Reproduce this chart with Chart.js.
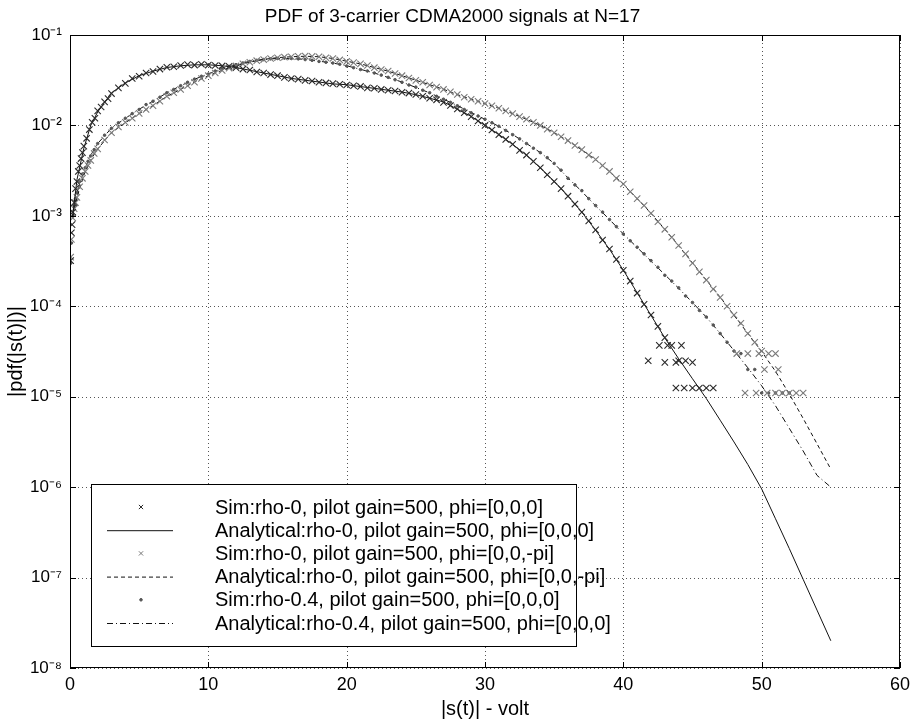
<!DOCTYPE html>
<html>
<head>
<meta charset="utf-8">
<script src="https://cdn.jsdelivr.net/npm/chart.js@4/dist/chart.umd.min.js"></script>
<style>
  html, body { margin: 0; padding: 0; background: #fff; }
  #box { width: 916px; height: 721px; }
</style>
</head>
<body>
<div id="box"><canvas id="pdfChart"></canvas></div>
<script>
// chart texts
var chartTitle = "PDF of 3-carrier CDMA2000 signals at N=17"
var xTitle = "|s(t)| - volt"
var yTitle = "|pdf(|s(t)|)|"
var seriesNames = [
  "Sim:rho-0, pilot gain=500, phi=[0,0,0]",
  "Analytical:rho-0, pilot gain=500, phi=[0,0,0]",
  "Sim:rho-0, pilot gain=500, phi=[0,0,-pi]",
  "Analytical:rho-0, pilot gain=500, phi=[0,0,-pi]",
  "Sim:rho-0.4, pilot gain=500, phi=[0,0,0]",
  "Analytical:rho-0.4, pilot gain=500, phi=[0,0,0]"
]
var xTicks = [0, 10, 20, 30, 40, 50, 60]
var yTicks = [1e-8, 1e-7, 1e-6, 1e-5, 1e-4, 1e-3, 1e-2, 1e-1]

// analytical curves
var lineX = [0.2, 0.5, 1, 1.5, 2, 3, 4, 5, 6, 7, 8, 9, 10, 11, 12, 13, 14, 15, 16, 17, 18, 19, 20,
  21, 22, 23, 24, 25, 26, 27, 28, 29, 30, 31, 32, 33, 34, 35, 36, 37, 38, 39, 40,
  41, 42, 43, 44, 45, 46, 47, 48, 49, 50, 51, 52, 53, 54, 55]
var anaRho0 = [1.0e-3, 2.5e-3, 5.6e-3, 1.0e-2, 1.41e-2, 2.29e-2, 2.95e-2, 3.55e-2, 3.98e-2, 4.37e-2,
  4.57e-2, 4.68e-2, 4.68e-2, 4.57e-2, 4.37e-2, 4.07e-2, 3.80e-2, 3.55e-2, 3.31e-2, 3.16e-2, 3.02e-2,
  2.88e-2, 2.82e-2, 2.69e-2, 2.57e-2, 2.45e-2, 2.34e-2, 2.19e-2, 2.0e-2, 1.82e-2, 1.51e-2, 1.26e-2,
  1.0e-2, 7.94e-3, 6.17e-3, 4.68e-3, 3.39e-3, 2.40e-3, 1.66e-3, 1.10e-3, 6.92e-4, 4.27e-4, 2.51e-4,
  1.41e-4, 7.94e-5, 4.47e-5, 2.63e-5, 1.58e-5, 9.55e-6, 5.50e-6, 3.16e-6, 1.78e-6, 9.55e-7, 4.47e-7,
  2.09e-7, 9.55e-8, 4.37e-8, 2.0e-8]
var anaRho0Pi = [1.0e-3, 1.58e-3, 2.82e-3, 4.17e-3, 5.50e-3, 8.32e-3, 1.07e-2, 1.35e-2, 1.66e-2, 2.09e-2,
  2.51e-2, 3.02e-2, 3.55e-2, 4.07e-2, 4.57e-2, 5.01e-2, 5.37e-2, 5.62e-2, 5.75e-2, 5.82e-2, 5.75e-2,
  5.50e-2, 5.13e-2, 4.79e-2, 4.37e-2, 3.98e-2, 3.55e-2, 3.16e-2, 2.82e-2, 2.51e-2, 2.19e-2, 1.95e-2,
  1.74e-2, 1.55e-2, 1.35e-2, 1.17e-2, 1.0e-2, 8.32e-3, 6.76e-3, 5.37e-3, 4.17e-3, 3.09e-3, 2.24e-3,
  1.55e-3, 1.07e-3, 7.08e-4, 4.68e-4, 3.02e-4, 1.95e-4, 1.26e-4, 7.94e-5, 5.01e-5, 3.16e-5, 1.91e-5,
  1.07e-5, 5.75e-6, 3.02e-6, 1.58e-6]
var anaRho04 = [1.0e-3, 1.78e-3, 3.16e-3, 4.68e-3, 6.31e-3, 9.33e-3, 1.20e-2, 1.51e-2, 1.86e-2, 2.29e-2,
  2.75e-2, 3.24e-2, 3.72e-2, 4.27e-2, 4.68e-2, 5.13e-2, 5.37e-2, 5.50e-2, 5.50e-2, 5.37e-2, 5.13e-2,
  4.90e-2, 4.57e-2, 4.17e-2, 3.80e-2, 3.39e-2, 3.02e-2, 2.63e-2, 2.29e-2, 1.95e-2, 1.66e-2, 1.38e-2,
  1.17e-2, 9.77e-3, 7.94e-3, 6.31e-3, 5.01e-3, 3.80e-3, 2.63e-3, 1.86e-3, 1.29e-3, 9.12e-4, 6.31e-4,
  4.47e-4, 3.16e-4, 2.24e-4, 1.58e-4, 1.10e-4, 7.59e-5, 5.01e-5, 3.24e-5, 2.09e-5, 1.32e-5, 7.94e-6,
  4.47e-6, 2.51e-6, 1.35e-6, 1.0e-6]

// simulated points, rho-0 phi=[0,0,0]
var simRho0X = [0.05, 0.1, 0.15, 0.2, 0.3, 0.4, 0.5, 0.6, 0.7, 0.8, 0.9, 1.0, 1.2, 1.4, 1.6, 1.8, 2.0, 2.25,
  2.5, 2.75, 3.0, 3.5, 4.0, 4.5, 5.0, 5.5, 6.0, 6.5, 7.0, 7.5, 8.0, 8.5, 9.0, 9.5, 10.0, 10.5, 11.0,
  11.5, 12.0, 12.5, 13.0, 13.5, 14.0, 14.5, 15.0, 15.5, 16.0, 16.5, 17.0, 17.5, 18.0, 18.5, 19.0,
  19.5, 20.0, 20.5, 21.0, 21.5, 22.0, 22.5, 23.0, 23.5, 24.0, 24.5, 25.0, 25.5, 26.0, 26.5, 27.0,
  27.5, 28.0, 28.5, 29.0, 29.5, 30.0, 30.5, 31.0, 31.5, 32.0, 32.5, 33.0, 33.5, 34.0, 34.5, 35.0,
  35.5, 36.0, 36.5, 37.0, 37.5, 38.0, 38.5, 39.0, 39.5, 40.0, 40.5, 41.0, 41.5, 42.0, 42.5, 43.0,
  43.5, 44.0, 44.5, 45.0, 45.5, 46.0, 46.5, 42.6, 43.2, 44.2, 43.0, 43.8, 45.0, 43.8, 44.4, 41.8]
var simRho0Y = [3.2e-4, 6.5e-4, 8.0e-4, 1.1e-3, 1.4e-3, 2.0e-3, 2.4e-3, 3.1e-3, 3.6e-3, 4.3e-3, 5.0e-3,
  5.9e-3, 7.2e-3, 9.0e-3, 1.08e-2, 1.2e-2, 1.45e-2, 1.6e-2, 1.82e-2, 1.98e-2, 2.25e-2, 2.6e-2,
  2.92e-2, 3.3e-2, 3.5e-2, 3.8e-2, 3.95e-2, 4.2e-2, 4.4e-2, 4.45e-2, 4.6e-2, 4.7e-2, 4.65e-2,
  4.75e-2, 4.65e-2, 4.6e-2, 4.55e-2, 4.5e-2, 4.35e-2, 4.2e-2, 4.1e-2, 3.9e-2, 3.8e-2, 3.65e-2,
  3.55e-2, 3.4e-2, 3.3e-2, 3.25e-2, 3.15e-2, 3.1e-2, 3.0e-2, 2.95e-2, 2.9e-2, 2.85e-2, 2.8e-2,
  2.75e-2, 2.7e-2, 2.6e-2, 2.58e-2, 2.5e-2, 2.45e-2, 2.4e-2, 2.33e-2, 2.28e-2, 2.2e-2, 2.1e-2,
  2.0e-2, 1.92e-2, 1.8e-2, 1.66e-2, 1.52e-2, 1.38e-2, 1.25e-2, 1.12e-2, 1.0e-2, 8.9e-3, 7.9e-3,
  7.0e-3, 6.2e-3, 5.3e-3, 4.7e-3, 4.0e-3, 3.4e-3, 2.85e-3, 2.4e-3, 2.0e-3, 1.65e-3, 1.35e-3,
  1.1e-3, 8.8e-4, 7.0e-4, 5.4e-4, 4.3e-4, 3.3e-4, 2.5e-4, 1.9e-4, 1.4e-4, 1.05e-4, 8.0e-5, 6.0e-5,
  4.5e-5, 3.7e-5, 2.5e-5, 2.5e-5, 1.25e-5, 1.25e-5, 1.25e-5, 1.25e-5, 3.7e-5, 3.7e-5, 3.7e-5,
  2.4e-5, 2.4e-5, 2.4e-5, 1.25e-5, 1.25e-5, 2.5e-5]

// simulated points, rho-0 phi=[0,0,-pi]
var simRho0PiX = [0.05, 0.1, 0.2, 0.3, 0.4, 0.5, 0.7, 0.9, 1.1, 1.3, 1.5, 1.75, 2.0, 2.5, 3.0, 3.5, 4.0,
  4.5, 5.0, 5.5, 6.0, 6.5, 7.0, 7.5, 8.0, 8.5, 9.0, 9.5, 10.0, 10.5, 11.0, 11.5, 12.0, 12.5, 13.0,
  13.5, 14.0, 14.5, 15.0, 15.5, 16.0, 16.5, 17.0, 17.5, 18.0, 18.5, 19.0, 19.5, 20.0, 20.5, 21.0,
  21.5, 22.0, 22.5, 23.0, 23.5, 24.0, 24.5, 25.0, 25.5, 26.0, 26.5, 27.0, 27.5, 28.0, 28.5, 29.0,
  29.5, 30.0, 30.5, 31.0, 31.5, 32.0, 32.5, 33.0, 33.5, 34.0, 34.5, 35.0, 35.5, 36.0, 36.5, 37.0,
  37.5, 38.0, 38.5, 39.0, 39.5, 40.0, 40.5, 41.0, 41.5, 42.0, 42.5, 43.0, 43.5, 44.0, 44.5, 45.0,
  45.5, 46.0, 46.5, 47.0, 47.5, 48.0, 48.5, 49.0, 49.5, 50.0, 50.5, 51.0, 51.5, 52.0, 52.5, 53.0,
  48.2, 49.0, 49.8, 48.8, 49.6, 50.4, 51.0, 50.2, 51.2]
var simRho0PiY = [3.5e-4, 5.5e-4, 9.5e-4, 1.2e-3, 1.4e-3, 1.6e-3, 2.1e-3, 2.6e-3, 3.1e-3, 3.6e-3, 4.1e-3,
  4.9e-3, 5.5e-3, 6.9e-3, 8.3e-3, 9.6e-3, 1.08e-2, 1.2e-2, 1.36e-2, 1.5e-2, 1.65e-2, 1.85e-2, 2.1e-2,
  2.3e-2, 2.5e-2, 2.75e-2, 3.0e-2, 3.3e-2, 3.55e-2, 3.8e-2, 4.05e-2, 4.3e-2, 4.55e-2, 4.8e-2, 5.0e-2,
  5.2e-2, 5.35e-2, 5.5e-2, 5.6e-2, 5.7e-2, 5.75e-2, 5.8e-2, 5.85e-2, 5.8e-2, 5.75e-2, 5.6e-2, 5.5e-2,
  5.3e-2, 5.1e-2, 4.95e-2, 4.8e-2, 4.6e-2, 4.35e-2, 4.15e-2, 4.0e-2, 3.75e-2, 3.55e-2, 3.35e-2,
  3.15e-2, 3.0e-2, 2.8e-2, 2.65e-2, 2.5e-2, 2.35e-2, 2.2e-2, 2.05e-2, 1.95e-2, 1.85e-2, 1.75e-2,
  1.65e-2, 1.55e-2, 1.45e-2, 1.35e-2, 1.25e-2, 1.17e-2, 1.08e-2, 1.0e-2, 9.1e-3, 8.3e-3, 7.5e-3,
  6.8e-3, 6.0e-3, 5.4e-3, 4.7e-3, 4.2e-3, 3.6e-3, 3.1e-3, 2.6e-3, 2.25e-3, 1.85e-3, 1.55e-3, 1.3e-3,
  1.07e-3, 8.6e-4, 7.1e-4, 5.8e-4, 4.7e-4, 3.8e-4, 3.0e-4, 2.4e-4, 1.95e-4, 1.55e-4, 1.25e-4, 1.0e-4,
  8.0e-5, 6.5e-5, 5.0e-5, 4.0e-5, 3.2e-5, 3.0e-5, 3.0e-5, 1.1e-5, 1.1e-5, 1.1e-5, 1.1e-5,
  3.0e-5, 3.0e-5, 3.0e-5, 1.1e-5, 1.1e-5, 1.1e-5, 1.1e-5, 2.0e-5, 2.0e-5]

// simulated points, rho-0.4 phi=[0,0,0]
var simRho04X = [0.05, 0.1, 0.2, 0.3, 0.4, 0.5, 0.7, 0.9, 1.1, 1.3, 1.5, 1.75, 2.0, 2.5, 3.0, 3.5, 4.0,
  4.5, 5.0, 5.5, 6.0, 6.5, 7.0, 7.5, 8.0, 8.5, 9.0, 9.5, 10.0, 10.5, 11.0, 11.5, 12.0, 12.5, 13.0,
  13.5, 14.0, 14.5, 15.0, 15.5, 16.0, 16.5, 17.0, 17.5, 18.0, 18.5, 19.0, 19.5, 20.0, 20.5, 21.0,
  21.5, 22.0, 22.5, 23.0, 23.5, 24.0, 24.5, 25.0, 25.5, 26.0, 26.5, 27.0, 27.5, 28.0, 28.5, 29.0,
  29.5, 30.0, 30.5, 31.0, 31.5, 32.0, 32.5, 33.0, 33.5, 34.0, 34.5, 35.0, 35.5, 36.0, 36.5, 37.0,
  37.5, 38.0, 38.5, 39.0, 39.5, 40.0, 40.5, 41.0, 41.5, 42.0, 42.5, 43.0, 43.5, 44.0, 44.5, 45.0,
  45.5, 46.0, 46.5, 47.0, 47.5, 48.0, 48.5, 49.0, 49.5, 50.0, 50.5, 51.0, 51.5, 52.0]
var simRho04Y = [3.0e-4, 5.0e-4, 1.0e-3, 1.3e-3, 1.55e-3, 1.8e-3, 2.4e-3, 2.9e-3, 3.4e-3, 4.0e-3, 4.6e-3,
  5.4e-3, 6.3e-3, 7.8e-3, 9.3e-3, 1.07e-2, 1.2e-2, 1.35e-2, 1.5e-2, 1.7e-2, 1.85e-2, 2.05e-2, 2.3e-2,
  2.5e-2, 2.75e-2, 3.0e-2, 3.25e-2, 3.5e-2, 3.7e-2, 4.0e-2, 4.25e-2, 4.5e-2, 4.7e-2, 4.9e-2, 5.1e-2,
  5.25e-2, 5.35e-2, 5.45e-2, 5.5e-2, 5.55e-2, 5.5e-2, 5.45e-2, 5.35e-2, 5.25e-2, 5.1e-2, 5.0e-2,
  4.9e-2, 4.75e-2, 4.55e-2, 4.35e-2, 4.15e-2, 4.0e-2, 3.8e-2, 3.6e-2, 3.4e-2, 3.2e-2, 3.0e-2, 2.8e-2,
  2.65e-2, 2.45e-2, 2.3e-2, 2.1e-2, 1.95e-2, 1.8e-2, 1.65e-2, 1.5e-2, 1.38e-2, 1.27e-2, 1.17e-2,
  1.07e-2, 9.8e-3, 8.8e-3, 7.9e-3, 7.1e-3, 6.3e-3, 5.6e-3, 5.0e-3, 4.4e-3, 3.8e-3, 3.2e-3, 2.6e-3,
  2.2e-3, 1.9e-3, 1.55e-3, 1.3e-3, 1.1e-3, 9.1e-4, 7.6e-4, 6.3e-4, 5.3e-4, 4.5e-4, 3.8e-4, 3.2e-4,
  2.7e-4, 2.2e-4, 1.9e-4, 1.6e-4, 1.3e-4, 1.1e-4, 9.0e-5, 7.6e-5, 6.2e-5, 5.0e-5, 4.0e-5, 3.2e-5,
  3.0e-5, 2.0e-5, 2.0e-5, 1.1e-5, 1.1e-5, 1.1e-5, 1.1e-5, 1.1e-5]

var fontName = "'Liberation Sans', Arial, sans-serif"
var supDigits = { '-': '\u207B', '0': '\u2070', '1': '\u00B9', '2': '\u00B2', '3': '\u00B3',
  '4': '\u2074', '5': '\u2075', '6': '\u2076', '7': '\u2077', '8': '\u2078', '9': '\u2079' }

function decadeLabel(v) {
  var e = String(Math.round(Math.log10(v)))
  var s = ''
  for (var i = 0; i < e.length; i++) s += supDigits[e[i]]
  return '10' + s
}

function toPoints(xs, ys) {
  var pts = []
  for (var i = 0; i < xs.length; i++) pts.push({ x: xs[i], y: ys[i] })
  return pts
}

// dotted grid under the data
var dottedGrid = {
  id: 'dottedGrid',
  beforeDatasetsDraw(chart) {
    var ctx = chart.ctx
    var ca = chart.chartArea
    var xs = chart.scales.x, ys = chart.scales.y
    ctx.save()
    ctx.strokeStyle = '#555'
    ctx.lineWidth = 1
    ctx.setLineDash([1, 3])
    ctx.beginPath()
    xTicks.forEach(function (t) {
      var px = Math.round(xs.getPixelForValue(t)) + 0.5
      ctx.moveTo(px, ca.top); ctx.lineTo(px, ca.bottom)
    })
    yTicks.forEach(function (t) {
      var py = Math.round(ys.getPixelForValue(t)) + 0.5
      ctx.moveTo(ca.left, py); ctx.lineTo(ca.right, py)
    })
    ctx.stroke()
    ctx.restore()
  }
}

// frame, inward ticks and the legend box drawn inside the plot
var frameAndLegend = {
  id: 'frameAndLegend',
  afterDatasetsDraw(chart) {
    var ctx = chart.ctx
    var ca = chart.chartArea
    var xs = chart.scales.x, ys = chart.scales.y
    ctx.save()
    ctx.strokeStyle = '#000'
    ctx.lineWidth = 1
    ctx.setLineDash([])
    ctx.strokeRect(ca.left + 0.5, ca.top + 0.5, ca.right - ca.left - 1, ca.bottom - ca.top - 1)
    ctx.beginPath()
    xTicks.forEach(function (t) {
      var px = Math.round(xs.getPixelForValue(t)) + 0.5
      ctx.moveTo(px, ca.bottom); ctx.lineTo(px, ca.bottom - 6)
      ctx.moveTo(px, ca.top); ctx.lineTo(px, ca.top + 6)
    })
    yTicks.forEach(function (t) {
      var py = Math.round(ys.getPixelForValue(t)) + 0.5
      ctx.moveTo(ca.left, py); ctx.lineTo(ca.left + 6, py)
      ctx.moveTo(ca.right, py); ctx.lineTo(ca.right - 6, py)
    })
    ctx.stroke()

    // legend
    var lx = ca.left + 21, ly = ca.bottom - 184, lw = 485, lh = 162
    ctx.fillStyle = '#fff'
    ctx.fillRect(lx, ly, lw, lh)
    ctx.strokeRect(lx + 0.5, ly + 0.5, lw, lh)
    ctx.font = '20px ' + fontName
    ctx.textBaseline = 'middle'
    ctx.textAlign = 'left'
    chart.data.datasets.forEach(function (ds, i) {
      var ry = ly + 23 + i * 23.2
      if (ds.showLine) {
        ctx.save()
        ctx.strokeStyle = ds.borderColor
        ctx.lineWidth = 1
        ctx.setLineDash(ds.borderDash || [])
        ctx.beginPath()
        ctx.moveTo(lx + 16, ry + 0.5); ctx.lineTo(lx + 82, ry + 0.5)
        ctx.stroke()
        ctx.restore()
      } else {
        ctx.strokeStyle = ds.borderColor
        ctx.fillStyle = ds.borderColor
        Chart.helpers.drawPoint(ctx, {
          pointStyle: ds.pointStyle,
          radius: ds.pointStyle === 'circle' ? ds.pointRadius : 3,
          rotation: 0,
          borderWidth: 1
        }, lx + 50, ry)
      }
      ctx.fillStyle = '#000'
      ctx.fillText(ds.label, lx + 124, ry + 1)
    })
    ctx.restore()
  }
}

var ctx = document.getElementById('pdfChart').getContext('2d')
var pdfChart = new Chart(ctx, {
  type: 'scatter',
  data: {
    datasets: [
      { label: seriesNames[0], data: toPoints(simRho0X, simRho0Y), pointStyle: 'crossRot',
        pointRadius: 4.5, borderColor: '#2a2a2a', backgroundColor: '#2a2a2a', borderWidth: 1.1, showLine: false },
      { label: seriesNames[1], data: toPoints(lineX, anaRho0), showLine: true, pointRadius: 0,
        borderColor: '#111', borderWidth: 1, fill: false },
      { label: seriesNames[2], data: toPoints(simRho0PiX, simRho0PiY), pointStyle: 'crossRot',
        pointRadius: 4.5, borderColor: '#7a7a7a', backgroundColor: '#7a7a7a', borderWidth: 1.1, showLine: false },
      { label: seriesNames[3], data: toPoints(lineX, anaRho0Pi), showLine: true, pointRadius: 0,
        borderColor: '#111', borderWidth: 1, borderDash: [4, 3], fill: false },
      { label: seriesNames[4], data: toPoints(simRho04X, simRho04Y), pointStyle: 'circle',
        pointRadius: 1.3, borderColor: '#555', backgroundColor: '#555', borderWidth: 1, showLine: false },
      { label: seriesNames[5], data: toPoints(lineX, anaRho04), showLine: true, pointRadius: 0,
        borderColor: '#111', borderWidth: 1, borderDash: [6, 3, 1, 3], fill: false }
    ]
  },
  options: {
    responsive: true,
    maintainAspectRatio: false,
    animation: false,
    layout: { padding: { left: 0, right: 11, top: 0, bottom: 0 } },
    plugins: {
      legend: { display: false },
      tooltip: { enabled: false },
      title: {
        display: true,
        text: chartTitle,
        color: '#000',
        font: { family: fontName, size: 19, weight: 'normal' },
        padding: { top: 5, bottom: 7.2 }
      }
    },
    scales: {
      x: {
        type: 'linear',
        min: 0,
        max: 60,
        afterBuildTicks: function (scale) {
          scale.ticks = xTicks.map(function (v) { return { value: v } })
        },
        afterFit: function (scale) { scale.height = 53 },
        grid: { display: false, drawTicks: false },
        border: { display: false },
        ticks: { color: '#000', padding: 6, font: { family: fontName, size: 18 },
          maxRotation: 0 },
        title: { display: true, text: xTitle, color: '#000',
          font: { family: fontName, size: 20 }, padding: { top: 0, bottom: 0 } }
      },
      y: {
        type: 'logarithmic',
        min: 1e-8,
        max: 1e-1,
        afterBuildTicks: function (scale) {
          scale.ticks = yTicks.map(function (v) { return { value: v } })
        },
        afterFit: function (scale) { scale.width = 70 },
        grid: { display: false, drawTicks: false },
        border: { display: false },
        ticks: { color: '#000', padding: 8, font: { family: fontName, size: 17 },
          callback: function (v) { return decadeLabel(v) } },
        title: { display: true, text: yTitle, color: '#000',
          font: { family: fontName, size: 20 }, padding: { top: 4, bottom: 0 } }
      }
    }
  },
  plugins: [dottedGrid, frameAndLegend]
})
</script>
</body>
</html>
